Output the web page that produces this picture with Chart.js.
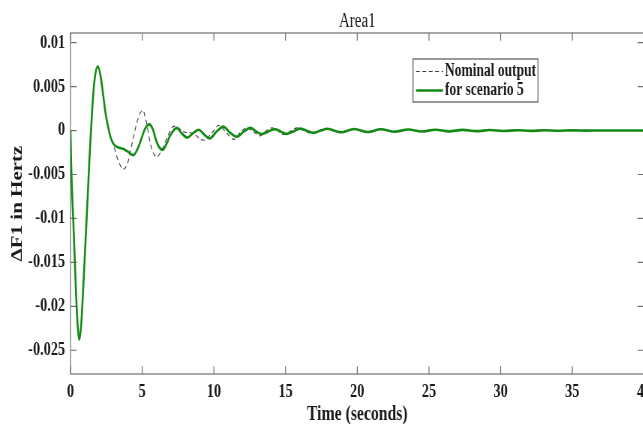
<!DOCTYPE html>
<html>
<head>
<meta charset="utf-8">
<script src="https://cdn.jsdelivr.net/npm/chart.js@4.4.1/dist/chart.umd.min.js"></script>
<style>
  html, body { margin: 0; padding: 0; background: #ffffff; overflow: hidden; width: 643px; height: 424px; }
  /* the figure is drawn wide and compressed horizontally, like a stretched export */
  #wrap { position: absolute; left: 0; top: 0; width: 907px; height: 424px; transform: scaleX(0.75); transform-origin: 0 0; }
  canvas { display: block; }
</style>
</head>
<body>
<div id="wrap"><canvas id="c" width="907" height="424"></canvas></div>
<script>
// Axis ticks
const xTicks = [0, 5, 10, 15, 20, 25, 30, 35, 40];
const yTicks = [-0.025, -0.02, -0.015, -0.01, -0.005, 0, 0.005, 0.01];
const yTickLabels = ['-0.025', '-0.02', '-0.015', '-0.01', '-0.005', '0', '0.005', '0.01'];

const seriesLabels = ['Nominal output', 'for scenario 5'];

// Nominal frequency deviation (s, Hz)
const nominalTime = [0, 0.04, 0.2, 0.35, 0.48, 0.61, 0.75, 0.9, 1.05, 1.2, 1.31, 1.43, 1.55, 1.68, 1.9,
  2.1, 2.29, 2.45, 2.64, 2.8, 2.99, 3.3, 3.69, 4.0, 4.38, 4.7, 5.04, 5.3, 5.6, 6.02, 6.4, 6.71, 7.22,
  8.0, 8.5, 9.27, 9.85, 10.35, 10.85, 11.4, 11.85, 12.3, 12.75, 13.2, 13.6, 14.05, 14.45, 14.85, 15.3,
  15.8, 16.3, 16.8, 17.3, 17.8, 18.75, 19.7, 20.65, 21.6, 22.55, 23.55, 24.5, 25.45, 26.4, 27.35, 28.3,
  29.25, 30.2, 31.15, 32.1, 33.05, 34.0, 35.0, 36.0, 37.0, 38.0, 40.0];
const nominalValues = [0, -0.0035, -0.0105, -0.0170, -0.0217, -0.0238, -0.0220, -0.0175, -0.0125, -0.0075, -0.0036, 0, 0.0033, 0.0058, 0.0073,
  0.0062, 0.0039, 0.0019, 0.0003, -0.0008, -0.0016, -0.0033, -0.0044, -0.0036, -0.0008, 0.0013, 0.0023, 0.0009, -0.0017, -0.0030, -0.0021, -0.0009, 0.0005,
  -0.0002, -0.0003, -0.0011, -0.0003, 0.0006, -0.0002, -0.0010, -0.0002, 0.0003, -0.0001, -0.0006, -0.0001, 0.0003, 0.0, -0.00045, -0.0001,
  0.0003, 0.0, -0.0003, 0.0, 0.00022, -0.0002, 0.00018, -0.00017, 0.00015, -0.00014, 0.00012, -0.00011, 0.0001, -0.00009, 0.00008, -0.00007,
  0.00006, -0.00005, 0.00004, -0.00004, 0.00003, -0.00002, 0.00002, -0.00001, 0.00001, 0, 0];

// Frequency deviation for scenario 5 (s, Hz)
const scenarioTime = [0, 0.04, 0.2, 0.35, 0.48, 0.61, 0.75, 0.9, 1.05, 1.2, 1.31, 1.43, 1.55, 1.68, 1.9,
  2.1, 2.29, 2.45, 2.64, 2.8, 2.99, 3.3, 3.7, 4.0, 4.38, 4.7, 4.97, 5.2, 5.5, 5.75, 5.95, 6.15, 6.43,
  6.7, 6.94, 7.41, 7.75, 8.15, 8.55, 8.95, 9.3, 9.7, 10.2, 10.66, 11.1, 11.6, 12.1, 12.55, 12.95, 13.35,
  13.8, 14.27, 14.65, 15.05, 15.55, 16.0, 16.45, 16.95, 17.45, 17.9, 18.85, 19.8, 20.7, 21.65, 22.6,
  23.55, 24.5, 25.45, 26.4, 27.35, 28.3, 29.25, 30.2, 31.15, 32.1, 33.05, 34.0, 35.0, 36.0, 37.0, 38.0, 40.0];
const scenarioValues = [0, -0.0035, -0.0105, -0.0170, -0.0217, -0.0238, -0.0220, -0.0175, -0.0125, -0.0075, -0.0036, 0, 0.0033, 0.0058, 0.0073,
  0.0062, 0.0039, 0.0019, 0.0003, -0.0008, -0.0015, -0.0019, -0.0021, -0.0024, -0.0028, -0.0020, -0.0008, 0.0002, 0.0007, 0.0001, -0.0010, -0.0018, -0.0022,
  -0.0015, -0.0006, 0.0003, -0.0003, -0.0008, -0.0003, 0.0001, -0.0004, -0.0009, -0.0001, 0.00045, -0.0002, -0.0007, -0.0001, 0.0003, -0.0001, -0.0004,
  -0.0001, 0.00015, -0.0001, -0.00038, -0.0001, 0.00022, 0.0, -0.00026, 0.0, 0.0002, -0.0002, 0.00018, -0.00017, 0.00015, -0.00014,
  0.00012, -0.00011, 0.0001, -0.00009, 0.00008, -0.00007, 0.00006, -0.00005, 0.00004, -0.00004, 0.00003, -0.00002, 0.00002, -0.00001, 0.00001, 0, 0];

const toPoints = (ts, vs) => ts.map((t, i) => ({ x: t, y: vs[i] }));
const FONT = "'Liberation Serif', 'Times New Roman', serif";
const INK = '#1a1a1a';

// Box around the axes with inward ticks on all four sides
const axesBox = {
  id: 'axesBox',
  beforeDatasetsDraw(chart) {
    const { ctx, chartArea: a, scales: { x, y } } = chart;
    ctx.save();
    ctx.strokeStyle = '#6e6e6e';
    ctx.lineWidth = 1.2;
    ctx.strokeRect(a.left, a.top, a.right - a.left, a.bottom - a.top);
    ctx.beginPath();
    x.ticks.forEach(t => {
      const px = x.getPixelForValue(t.value);
      ctx.moveTo(px, a.bottom); ctx.lineTo(px, a.bottom - 7.7);
      ctx.moveTo(px, a.top); ctx.lineTo(px, a.top + 7.7);
    });
    y.ticks.forEach(t => {
      const py = y.getPixelForValue(t.value);
      ctx.moveTo(a.left, py); ctx.lineTo(a.left + 8.4, py);
      ctx.moveTo(a.right, py); ctx.lineTo(a.right - 8.4, py);
    });
    ctx.stroke();
    ctx.restore();
  }
};

// Framed legend inside the plot
const framedLegend = {
  id: 'framedLegend',
  afterDatasetsDraw(chart) {
    const { ctx, chartArea: a } = chart;
    const left = a.left + 456.7, top = a.top + 26, w = 166.6, h = 43;
    const rows = [12.5, 31.5];
    ctx.save();
    ctx.fillStyle = '#ffffff';
    ctx.fillRect(left, top, w, h);
    ctx.strokeStyle = '#555555';
    ctx.lineWidth = 1.2;
    ctx.strokeRect(left, top, w, h);
    ctx.font = 'bold 18px ' + FONT;
    ctx.textBaseline = 'middle';
    ctx.textAlign = 'left';
    chart.data.datasets.forEach((ds, i) => {
      const yy = top + rows[i];
      ctx.beginPath();
      ctx.strokeStyle = ds.borderColor;
      ctx.lineWidth = ds.borderWidth;
      ctx.setLineDash(ds.borderDash || []);
      ctx.moveTo(left + 4, yy);
      ctx.lineTo(left + 40, yy);
      ctx.stroke();
      ctx.setLineDash([]);
      ctx.fillStyle = INK;
      ctx.fillText(ds.label, left + 42.6, yy);
    });
    ctx.restore();
  }
};

new Chart(document.getElementById('c'), {
  type: 'line',
  data: {
    datasets: [
      {
        label: seriesLabels[0],
        data: toPoints(nominalTime, nominalValues),
        borderColor: '#3a3a3a',
        borderWidth: 1.1,
        borderDash: [5, 3.5],
        pointRadius: 0,
        cubicInterpolationMode: 'monotone',
        order: 1
      },
      {
        label: seriesLabels[1],
        data: toPoints(scenarioTime, scenarioValues),
        borderColor: '#138a13',
        borderWidth: 2.6,
        pointRadius: 0,
        cubicInterpolationMode: 'monotone',
        order: 0
      }
    ]
  },
  options: {
    responsive: false,
    maintainAspectRatio: false,
    devicePixelRatio: 1,
    animation: false,
    layout: { padding: { left: 0, right: 48.3, top: 0, bottom: 0 } },
    plugins: {
      legend: { display: false },
      tooltip: { enabled: false },
      title: {
        display: true,
        fullSize: false,
        text: 'Area1',
        color: INK,
        font: { family: FONT, size: 20, weight: 'normal', lineHeight: 1 },
        padding: { top: 12, bottom: 1 }
      }
    },
    scales: {
      x: {
        type: 'linear',
        min: 0,
        max: 40,
        grid: { display: false, drawTicks: false },
        border: { display: false },
        afterBuildTicks: s => { s.ticks = xTicks.map(v => ({ value: v })); },
        afterFit: s => { s.height = 50; },
        ticks: {
          padding: 9,
          maxRotation: 0,
          autoSkip: false,
          color: INK,
          font: { family: FONT, size: 19, weight: 'bold', lineHeight: 1 },
          callback: v => String(v)
        },
        title: {
          display: true,
          text: 'Time (seconds)',
          color: INK,
          font: { family: FONT, size: 21, weight: 'bold', lineHeight: 0.9 },
          padding: 0
        }
      },
      y: {
        type: 'linear',
        min: -0.0277,
        max: 0.0111,
        grid: { display: false, drawTicks: false },
        border: { display: false },
        afterBuildTicks: s => { s.ticks = yTicks.map(v => ({ value: v })); },
        afterFit: s => { s.width = 94; },
        ticks: {
          padding: 7.3,
          autoSkip: false,
          color: INK,
          font: { family: FONT, size: 19, weight: 'bold', lineHeight: 1 },
          callback: (v, i) => yTickLabels[i]
        },
        title: {
          display: true,
          text: 'ΔF1 in Hertz',
          color: INK,
          font: { family: FONT, size: 21, weight: 'bold', lineHeight: 1 },
          padding: { top: 13.5, bottom: 0 }
        }
      }
    }
  },
  plugins: [axesBox, framedLegend]
});
</script>
</body>
</html>
